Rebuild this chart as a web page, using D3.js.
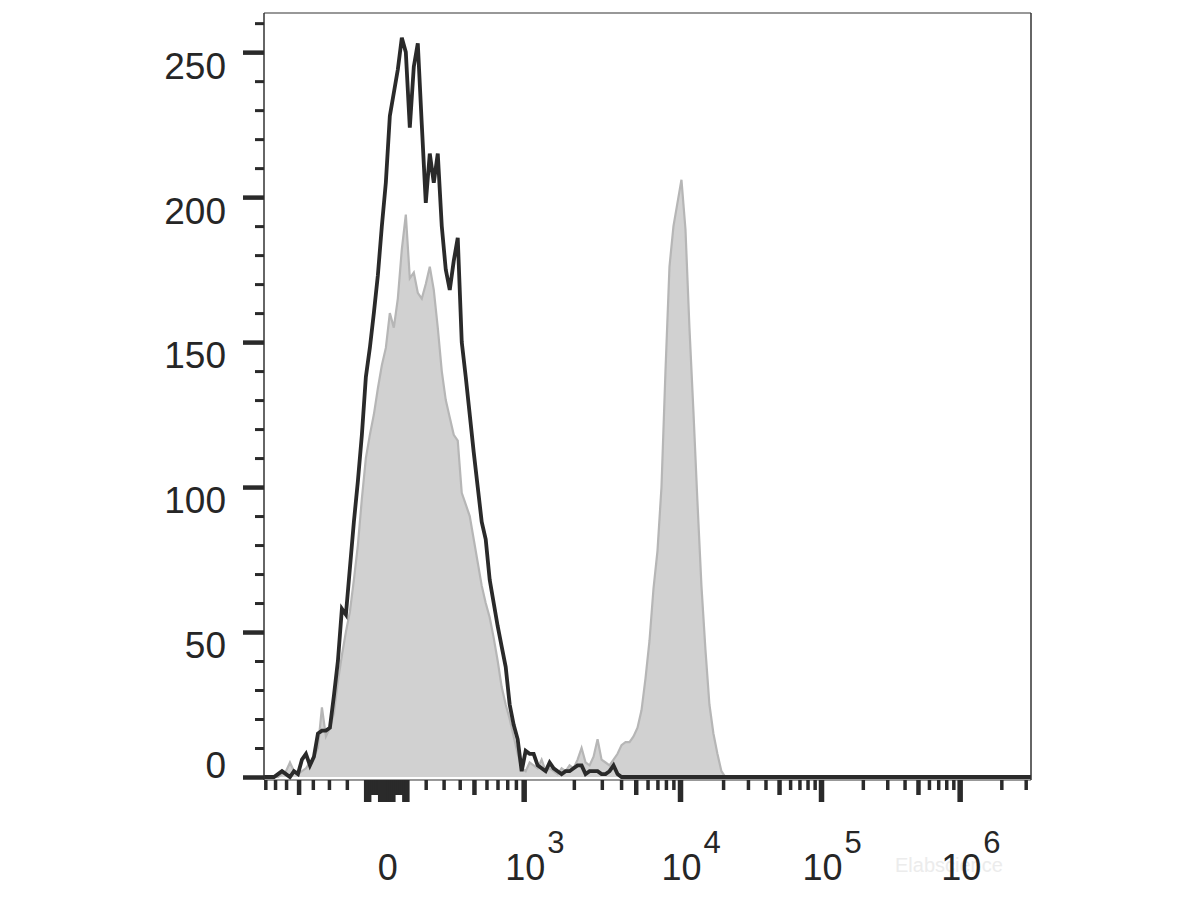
<!DOCTYPE html>
<html>
<head>
<meta charset="utf-8">
<script src="https://cdn.jsdelivr.net/npm/d3@7"></script>
<style>
html,body{margin:0;padding:0;background:#fff;}
svg{display:block;font-family:"Liberation Sans",Arial,Helvetica,sans-serif;}
</style>
</head>
<body>
<svg id="chart" width="1198" height="899"></svg>
<script>
// ---------- DATA ----------
// Histogram bins: equal-width channels across the biexponential display axis
const binCount = 192;

// Unstained / isotype control (black outline)
const controlCounts = [
  0,0,0,1,2,1,0,2,1,6,
  8,4,7,15,16,16,17,28,40,58,
  56,72,88,102,118,138,148,160,173,190,
  205,228,236,244,255,250,224,245,253,225,
  198,215,205,215,190,175,168,178,186,150,
  138,125,112,100,88,82,68,60,52,45,
  38,25,18,13,2,9,8,8,4,3,
  2,5,3,2,1,2,2,3,4,4,
  1,2,2,2,1,1,2,4,1,0,
  0,0,0,0,0,0,0,0,0,0,
  0,0,0,0,0,0,0,0,0,0,
  0,0,0,0,0,0,0,0,0,0,
  0,0,0,0,0,0,0,0,0,0,
  0,0,0,0,0,0,0,0,0,0,
  0,0,0,0,0,0,0,0,0,0,
  0,0,0,0,0,0,0,0,0,0,
  0,0,0,0,0,0,0,0,0,0,
  0,0,0,0,0,0,0,0,0,0,
  0,0,0,0,0,0,0,0,0,0,
  0,0
];

// Stained sample (grey filled)
const stainedCounts = [
  0,0,0,0,1,2,5,2,1,2,
  3,5,7,10,24,14,17,22,33,42,
  50,57,68,80,96,110,118,125,134,142,
  148,160,155,165,182,194,172,174,167,165,
  170,176,168,155,140,130,124,118,116,98,
  94,90,82,74,66,60,55,48,40,31,
  25,20,14,8,3,2,5,4,3,6,
  2,3,2,1,3,2,4,3,6,10,
  5,4,7,13,6,5,4,6,8,11,
  12,12,14,17,23,34,47,65,78,100,
  140,176,190,198,206,189,155,126,95,66,
  44,25,15,8,2,0,0,0,0,0,
  0,0,0,0,0,0,0,0,0,0,
  0,0,0,0,0,0,0,0,0,0,
  0,0,0,0,0,0,0,0,0,0,
  0,0,0,0,0,0,0,0,0,0,
  0,0,0,0,0,0,0,0,0,0,
  0,0,0,0,0,0,0,0,0,0,
  0,0,0,0,0,0,0,0,0,0,
  0,0
];

// Axis extents (data units)
const xDomainMin = -820;
const xDomainMax = 3.25e6;
const yDomainMax = 263.5;

// Y tick labels
const yLabelValues = [0, 50, 100, 150, 200, 250];
const yMinorStep = 10;

// X tick labels (value, base text, exponent text)
const xLabelValues = [0, 1e3, 1e4, 1e5, 1e6];
const xLabelBases  = ["0", "10", "10", "10", "10"];
const xLabelExps   = ["", "3", "4", "5", "6"];

const watermarkText = "Elabscience";

// ---------- BIEXPONENTIAL (logicle-like) TRANSFORM ----------
const biexA = 71.6, biexP = 3.15;
function biexForward(z) {
  const a = Math.abs(z);
  const s = biexA * (Math.exp(a) - biexP * biexP * Math.exp(-a / biexP) + biexP * biexP - 1);
  return z < 0 ? -s : s;
}
function biexInverse(v) {
  let lo = -30, hi = 30;
  for (let k = 0; k < 90; k++) {
    const mid = (lo + hi) / 2;
    if (biexForward(mid) < v) lo = mid; else hi = mid;
  }
  return (lo + hi) / 2;
}
const zMin = biexInverse(xDomainMin), zMax = biexInverse(xDomainMax);
const toChannel = d3.scaleLinear().domain([zMin, zMax]).range([0, binCount]);
const channelOf = v => toChannel(biexInverse(v));

// ---------- LAYOUT ----------
const plotLeft = 264, plotRight = 1031, plotTop = 13, plotBottom = 777;
const frameBottom = 780;

const svg = d3.select("#chart");
const x = d3.scaleLinear().domain([0, binCount]).range([plotLeft, plotRight]);
const y = d3.scaleLinear().domain([0, yDomainMax]).range([plotBottom, plotTop]);

const ink = "#2a2a2a";

// watermark (faint, sits behind the 10^6 label as in the original)
svg.append("text")
  .attr("x", 895).attr("y", 872)
  .attr("font-size", 20)
  .attr("fill", "#ececec")
  .text(watermarkText);

// ---------- HISTOGRAMS ----------
const stainedData = stainedCounts.map((c, i) => ({ ch: i + 0.5, c }));
const controlData = controlCounts.map((c, i) => ({ ch: i + 0.5, c }));

svg.append("path")
  .datum(stainedData)
  .attr("d", d3.area().x(d => x(d.ch)).y0(y(0)).y1(d => y(d.c)))
  .attr("fill", "#d1d1d1");

svg.append("path")
  .datum(stainedData)
  .attr("d", d3.line().x(d => x(d.ch)).y(d => y(d.c)))
  .attr("fill", "none")
  .attr("stroke", "#b6b6b6")
  .attr("stroke-width", 2.2)
  .attr("stroke-linejoin", "miter");

svg.append("path")
  .datum([{ ch: 0, c: 0 }, ...controlData, { ch: binCount, c: 0 }])
  .attr("d", d3.line().x(d => x(d.ch)).y(d => y(d.c)))
  .attr("fill", "none")
  .attr("stroke", ink)
  .attr("stroke-width", 3.8)
  .attr("stroke-linejoin", "miter");

// ---------- FRAME ----------
const frame = svg.append("g").attr("stroke", "#333").attr("fill", "none");
frame.append("line").attr("x1", plotLeft).attr("x2", plotRight).attr("y1", plotTop).attr("y2", plotTop).attr("stroke-width", 1.2);
frame.append("line").attr("x1", plotRight).attr("x2", plotRight).attr("y1", plotTop).attr("y2", frameBottom).attr("stroke-width", 1.5);
frame.append("line").attr("x1", plotLeft).attr("x2", plotLeft).attr("y1", plotTop).attr("y2", frameBottom).attr("stroke-width", 1.5);
frame.append("line").attr("x1", plotLeft).attr("x2", plotRight).attr("y1", frameBottom).attr("y2", frameBottom).attr("stroke-width", 1.2);

// ---------- Y AXIS ----------
const yMinorValues = d3.range(0, yDomainMax, yMinorStep).filter(v => !yLabelValues.includes(v));
const yMinorAxis = d3.axisLeft(y).tickValues(yMinorValues).tickSize(9).tickFormat("");
const gYMinor = svg.append("g").attr("transform", `translate(${plotLeft},0)`).call(yMinorAxis);
gYMinor.select(".domain").remove();
gYMinor.selectAll(".tick line").attr("stroke", ink).attr("stroke-width", 3);

const yMajorAxis = d3.axisLeft(y).tickValues(yLabelValues).tickSize(21).tickPadding(17).tickFormat(d3.format("d"));
const gYMajor = svg.append("g").attr("transform", `translate(${plotLeft},0)`).call(yMajorAxis);
gYMajor.select(".domain").remove();
gYMajor.selectAll(".tick line").attr("stroke", ink).attr("stroke-width", 4.5);
gYMajor.selectAll(".tick text")
  .attr("font-size", 37)
  .attr("font-family", "'Liberation Sans', Arial, sans-serif")
  .attr("fill", "#262626")
  .attr("dy", d => d === 0 ? "-0.0em" : "0.7em");

// ---------- X AXIS TICKS ----------
const xTicks = [];
for (let v = -100; v <= 100; v += 10) {
  const a = Math.abs(v);
  xTicks.push({ v, kind: (a <= 30 || a >= 90) ? "major" : "mid" });
}
for (let m = 2; m <= 8; m++) xTicks.push({ v: -m * 100, kind: m === 5 ? "mid" : "minor" });
for (let m = 2; m <= 9; m++) xTicks.push({ v: m * 100, kind: m === 5 ? "mid" : "minor" });
for (let e = 3; e <= 6; e++) {
  xTicks.push({ v: Math.pow(10, e), kind: "major" });
  const top = e < 6 ? 9 : 3;
  for (let m = 2; m <= top; m++) xTicks.push({ v: m * Math.pow(10, e), kind: m === 5 ? "mid" : "minor" });
}
const tickLen = { major: 22, mid: 15, minor: 10 };
const tickW = { major: 5.5, mid: 4.5, minor: 3.5 };

svg.append("g").selectAll("line")
  .data(xTicks.filter(t => t.v >= xDomainMin && t.v <= xDomainMax))
  .join("line")
  .attr("x1", d => x(channelOf(d.v)))
  .attr("x2", d => x(channelOf(d.v)))
  .attr("y1", frameBottom)
  .attr("y2", d => frameBottom + tickLen[d.kind])
  .attr("stroke", ink)
  .attr("stroke-width", d => tickW[d.kind]);

// ---------- X AXIS LABELS ----------
const xl = svg.append("g").attr("fill", "#262626");
xLabelValues.forEach((v, i) => {
  const px = x(channelOf(v));
  xl.append("text")
    .attr("x", px + 1).attr("y", 880)
    .attr("text-anchor", "middle")
    .attr("font-size", 36)
    .text(xLabelBases[i]);
  if (xLabelExps[i]) {
    xl.append("text")
      .attr("x", px + 23).attr("y", 853)
      .attr("font-size", 31)
      .text(xLabelExps[i]);
  }
});
</script>
</body>
</html>
